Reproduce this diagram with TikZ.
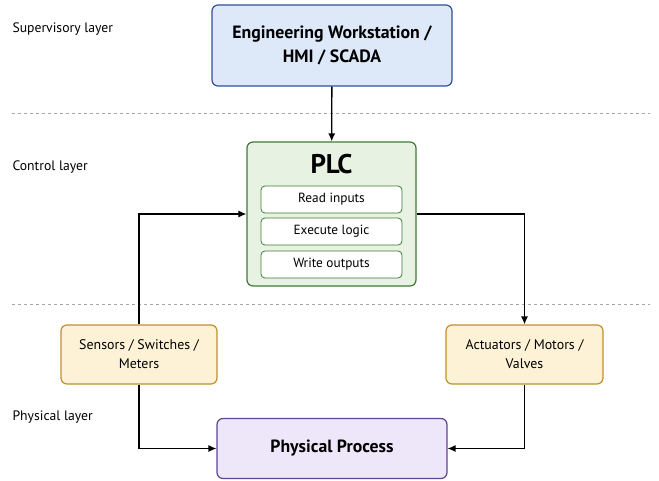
\documentclass[tikz,border=0pt]{standalone}
\usepackage{fontspec}
\setmainfont{PT Sans}
\usetikzlibrary{arrows.meta}

\definecolor{supfill}{HTML}{DDE8F9}
\definecolor{supline}{HTML}{2F4F9A}
\definecolor{plcfill}{HTML}{E8F2E2}
\definecolor{plcline}{HTML}{3E7A33}
\definecolor{iofill}{HTML}{FDF1D6}
\definecolor{ioline}{HTML}{C0902A}
\definecolor{procfill}{HTML}{EEE7FA}
\definecolor{procline}{HTML}{5E4595}

\tikzset{
  block/.style={draw, line width=1.2pt, rounded corners=6pt, align=center, inner sep=0pt},
  stepbox/.style={draw=plcline, fill=white, line width=0.8pt, rounded corners=4pt,
    minimum width=141pt, minimum height=27pt, font=\fontsize{13.3}{15}\selectfont},
  layer/.style={anchor=west, font=\fontsize{13.7}{15}\selectfont},
  flow/.style={-{Latex[length=8pt,width=7pt]}, line width=1.3pt},
  sep/.style={gray!70, dashed, line width=0.8pt}
}

\begin{document}
\begin{tikzpicture}[x=1pt,y=-1pt]
  \useasboundingbox (0,0) rectangle (659,481);
  % layer labels and separators
  \node[layer] (suplabel) at (9,29) {Supervisory layer};
  \node[layer] (ctllabel) at (9,167) {Control layer};
  \node[layer] (phylabel) at (9,417) {Physical layer};
  \draw[sep] (12,113) -- (650,113);
  \draw[sep] (12,304) -- (650,304);
  % blocks
  \node[block, draw=supline, fill=supfill, minimum width=240pt, minimum height=81pt,
    font=\bfseries\fontsize{17.8}{24}\selectfont] (hmi) at (332,45.5)
    {Engineering Workstation /\\HMI / SCADA};
  \node[block, draw=plcline, fill=plcfill, minimum width=169pt, minimum height=144pt] (plc) at (331.5,214) {};
  \node[font=\bfseries\fontsize{27}{30}\selectfont] (plctitle) at (331.5,164) {PLC};
  \node[stepbox] (read) at (331.5,199.5) {Read inputs};
  \node[stepbox] (exec) at (331.5,231.5) {Execute logic};
  \node[stepbox] (write) at (331.5,264.5) {Write outputs};
  \node[block, draw=ioline, fill=iofill, minimum width=156pt, minimum height=59pt,
    font=\fontsize{13.9}{19}\selectfont] (sens) at (139,354.5)
    {Sensors / Switches /\\Meters};
  \node[block, draw=ioline, fill=iofill, minimum width=157pt, minimum height=59pt,
    font=\fontsize{13.9}{19}\selectfont] (act) at (524.5,354.5)
    {Actuators / Motors /\\Valves};
  \node[block, draw=procline, fill=procfill, minimum width=230pt, minimum height=60pt,
    font=\bfseries\fontsize{17.7}{20}\selectfont] (proc) at (332,448.5) {Physical Process};
  % connections
  \draw[flow] (hmi) -- (plc);
  \draw[flow] (sens.north) |- (plc.west);
  \draw[flow] (plc.east) -| (act.north);
  \draw[flow] (sens.south) |- (proc.west);
  \draw[flow] (act.south) |- (proc.east);
\end{tikzpicture}
\end{document}
